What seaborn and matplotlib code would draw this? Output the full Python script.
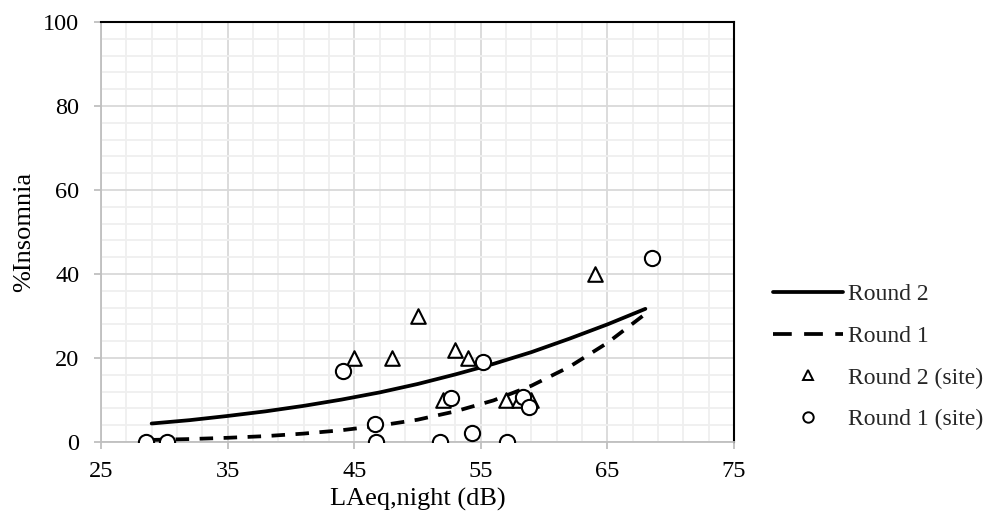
import matplotlib
matplotlib.use("Agg")
import matplotlib.pyplot as plt
from matplotlib.ticker import MultipleLocator
from matplotlib.lines import Line2D
import seaborn as sns
import pandas as pd

# Fitted curves
curve_x = [29, 32, 35, 38, 41, 44, 47, 50, 53, 56, 59, 62, 65, 68]
round2_curve = [4.4, 5.2, 6.2, 7.3, 8.6, 10.1, 11.8, 13.8, 16.1, 18.6, 21.4, 24.6, 28.0, 31.7]
round1_curve = [0.5, 0.7, 1.0, 1.4, 2.0, 2.8, 3.9, 5.3, 7.3, 9.9, 13.4, 17.9, 23.6, 30.5]

# Site data
round2_site_x = [28.5, 30.2, 45.0, 48.0, 50.0, 52.0, 53.0, 54.0, 57.0, 58.0, 59.0, 64.0]
round2_site_y = [0, 0, 20, 20, 30, 10, 22, 20, 10, 10, 10, 40]
round1_site_x = [28.55, 30.25, 44.1, 46.65, 46.7, 51.8, 52.65, 54.3, 55.15, 57.1, 58.3, 58.8, 68.55]
round1_site_y = [0, 0, 17.0, 4.2, 0, 0, 10.4, 2.2, 19.1, 0, 10.6, 8.3, 43.7]

sns.set_theme(style="white")
plt.rcParams['font.family'] = ['Liberation Serif', 'DejaVu Serif']
TICK_FS = 17.5
LABEL_FS = 19
LEG_FS = 17

fig = plt.figure(figsize=(9.9, 5.22), dpi=100)
ax = fig.add_axes([101/990, 80/522, 633/990, 420/522])

curves = pd.DataFrame({"x": curve_x, "r2": round2_curve, "r1": round1_curve})
sns.lineplot(data=curves, x="x", y="r2", ax=ax, color="black", lw=2.7, zorder=3)
sns.lineplot(data=curves, x="x", y="r1", ax=ax, color="black", lw=2.7,
             linestyle=(0, (3.6, 2.8)), zorder=3)

s2 = pd.DataFrame({"x": round2_site_x, "y": round2_site_y})
s1 = pd.DataFrame({"x": round1_site_x, "y": round1_site_y})
sns.scatterplot(data=s2, x="x", y="y", ax=ax, marker="^", s=110, facecolor="white",
                edgecolor="black", linewidth=1.5, zorder=4)
sns.scatterplot(data=s1, x="x", y="y", ax=ax, marker="o", s=120, facecolor="white",
                edgecolor="black", linewidth=1.5, zorder=5)

ax.set_xlim(25, 75)
ax.set_ylim(0, 100)
ax.xaxis.set_major_locator(MultipleLocator(10, offset=5))
ax.xaxis.set_minor_locator(MultipleLocator(2, offset=1))
ax.yaxis.set_major_locator(MultipleLocator(20))
ax.yaxis.set_minor_locator(MultipleLocator(4))
ax.grid(which="major", color="#d9d9d9", lw=1.3, zorder=0)
ax.grid(which="minor", color="#efefef", lw=1.3, zorder=0)
ax.set_axisbelow(True)

for side in ["left", "bottom"]:
    ax.spines[side].set_color("#bfbfbf")
    ax.spines[side].set_linewidth(1.3)
for side in ["top", "right"]:
    ax.spines[side].set_color("black")
    ax.spines[side].set_linewidth(1.5)

ax.tick_params(axis="both", which="major", direction="out", length=5, width=1.3,
               color="#bfbfbf", labelsize=TICK_FS, labelcolor="black",
               bottom=True, left=True)
ax.tick_params(axis="x", pad=9)
ax.tick_params(axis="y", pad=10.5)
ax.tick_params(which="minor", length=0)
ax.set_xlabel("LAeq,night (dB)", fontsize=LABEL_FS, color="black", labelpad=4)
ax.set_ylabel("%Insomnia", fontsize=LABEL_FS, color="black", labelpad=6)

handles = [
    Line2D([], [], color="black", lw=2.7),
    Line2D([], [], color="black", lw=2.7, linestyle=(0, (5, 3.3))),
    Line2D([], [], color="black", marker="^", linestyle="none", markersize=7.5,
           markerfacecolor="white", markeredgewidth=1.4),
    Line2D([], [], color="black", marker="o", linestyle="none", markersize=7.5,
           markerfacecolor="white", markeredgewidth=1.4),
]
labels = ["Round 2", "Round 1", "Round 2 (site)", "Round 1 (site)"]
fig.legend(handles, labels, loc="center left", bbox_to_anchor=(764/990, 1 - 357/522),
           frameon=False, fontsize=LEG_FS, handlelength=2.95, handletextpad=0.2,
           labelspacing=0.86, borderaxespad=0)

fig.savefig("out.png", dpi=100)
